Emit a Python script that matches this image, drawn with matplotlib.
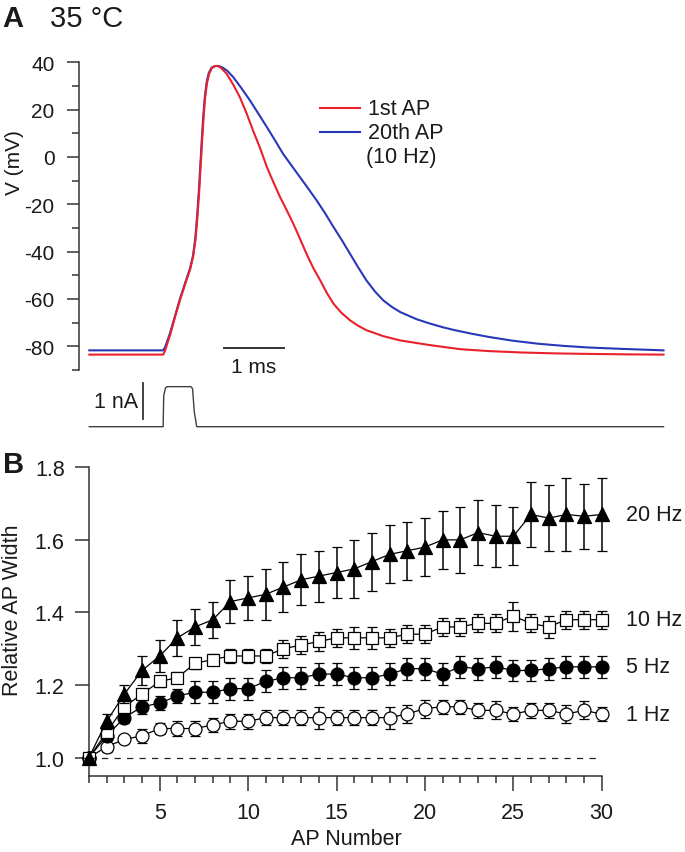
import numpy as np
import matplotlib
matplotlib.use('Agg')
import matplotlib.pyplot as plt
from matplotlib.ticker import MultipleLocator

plt.rcParams['font.family'] = ['Liberation Sans', 'DejaVu Sans']
plt.rcParams['axes.unicode_minus'] = False

# ---- panel A: AP traces (time in ms, V in mV) ----
red_t = [0.00, 1.23, 1.26, 1.345, 1.43, 1.51, 1.60, 1.68, 1.73, 1.77, 1.80, 1.83, 1.855, 1.88,
         1.905, 1.93, 1.96, 1.995, 2.04, 2.09, 2.14, 2.19, 2.24, 2.29, 2.40, 2.51, 2.62, 2.73,
         2.85, 2.96, 3.07, 3.18, 3.29, 3.40, 3.51, 3.62, 3.73, 3.85, 3.96, 4.07, 4.20, 4.345,
         4.48, 4.62, 4.90, 5.18, 5.68, 6.18, 6.65, 7.20, 7.80, 8.32, 9.00, 9.57]
red_v = [-83.5, -83.5, -82.0, -75.3, -67.5, -60.5, -53.5, -47.5, -42.0, -35.0, -26.0, -15.0, -4.0, 7.0,
         17.0, 25.0, 31.0, 35.0, 37.5, 38.4, 38.5, 37.7, 36.5, 35.1, 30.5, 25.2, 18.5, 11.1,
         3.5, -4.3, -10.8, -17.0, -22.5, -28.2, -34.5, -40.9, -46.8, -52.2, -57.5, -62.0, -65.8, -69.0,
         -71.3, -73.2, -75.7, -77.5, -79.5, -81.2, -82.0, -82.6, -83.0, -83.2, -83.4, -83.5]

blue_t = [0.00, 1.23, 1.26, 1.345, 1.43, 1.51, 1.60, 1.68, 1.73, 1.765, 1.795, 1.825, 1.85, 1.875,
          1.90, 1.925, 1.955, 1.99, 2.04, 2.10, 2.16, 2.22, 2.30, 2.40, 2.54, 2.68, 2.82, 2.96,
          3.10, 3.23, 3.37, 3.51, 3.65, 3.79, 3.93, 4.07, 4.21, 4.345, 4.48, 4.62, 4.76, 4.90,
          5.04, 5.18, 5.46, 5.68, 5.90, 6.095, 6.40, 6.65, 7.05, 7.48, 7.90, 8.32, 8.90, 9.57]
blue_v = [-81.7, -81.7, -80.5, -74.5, -67.0, -60.0, -53.0, -47.0, -41.5, -34.5, -25.5, -14.5, -3.5, 7.5,
          17.5, 25.5, 31.5, 35.5, 37.8, 38.4, 38.4, 37.8, 36.4, 33.7, 28.9, 23.8, 18.2, 12.6,
          6.8, 1.3, -3.6, -8.5, -13.4, -18.4, -23.8, -29.6, -35.2, -40.9, -46.6, -52.2, -56.8, -60.6,
          -63.3, -65.5, -68.6, -70.4, -72.0, -73.2, -74.8, -76.0, -77.6, -78.9, -79.8, -80.5, -81.1, -81.7]

# stimulus current (nA)
stim_t = [0.00, 1.23, 1.24, 1.27, 1.30, 1.69, 1.72, 1.75, 1.79, 9.57]
stim_i = [0.0, 0.0, 0.85, 1.07, 1.1, 1.1, 1.05, 0.4, 0.0, 0.0]

# ---- panel B: relative AP width vs AP number ----
ap = np.arange(1, 31)
hz20 = [1.00, 1.10, 1.175, 1.24, 1.28, 1.33, 1.36, 1.38, 1.43, 1.44, 1.45, 1.47, 1.49, 1.50, 1.51,
        1.52, 1.54, 1.56, 1.57, 1.58, 1.60, 1.60, 1.62, 1.61, 1.61, 1.67, 1.66, 1.67, 1.665, 1.67]
hz20_err = [0, 0.02, 0.025, 0.04, 0.045, 0.05, 0.05, 0.05, 0.06, 0.06, 0.07, 0.07, 0.07, 0.07, 0.07,
            0.08, 0.08, 0.08, 0.08, 0.08, 0.08, 0.09, 0.09, 0.085, 0.08, 0.09, 0.09, 0.10, 0.09, 0.10]
hz10 = [1.00, 1.07, 1.14, 1.175, 1.21, 1.22, 1.26, 1.27, 1.28, 1.28, 1.28, 1.30, 1.31, 1.32, 1.33,
        1.33, 1.33, 1.33, 1.34, 1.34, 1.36, 1.36, 1.37, 1.37, 1.39, 1.37, 1.36, 1.38, 1.38, 1.38]
hz10_err = [0, 0.01, 0.015, 0.015, 0.015, 0.015, 0.015, 0.015, 0.02, 0.02, 0.02, 0.025, 0.025, 0.025, 0.025,
            0.03, 0.03, 0.025, 0.025, 0.025, 0.025, 0.025, 0.025, 0.025, 0.04, 0.025, 0.03, 0.025, 0.025, 0.025]
hz5 = [1.00, 1.06, 1.11, 1.14, 1.15, 1.17, 1.18, 1.18, 1.19, 1.19, 1.21, 1.22, 1.22, 1.23, 1.23,
       1.22, 1.22, 1.23, 1.245, 1.245, 1.23, 1.25, 1.245, 1.25, 1.24, 1.24, 1.245, 1.25, 1.25, 1.25]
hz5_err = [0, 0.01, 0.015, 0.02, 0.02, 0.02, 0.03, 0.03, 0.03, 0.03, 0.03, 0.03, 0.03, 0.03, 0.03,
           0.03, 0.03, 0.03, 0.03, 0.03, 0.03, 0.03, 0.03, 0.03, 0.03, 0.03, 0.03, 0.03, 0.03, 0.03]
hz1 = [1.00, 1.03, 1.05, 1.06, 1.08, 1.08, 1.08, 1.09, 1.10, 1.10, 1.11, 1.11, 1.11, 1.11, 1.11,
       1.11, 1.11, 1.11, 1.12, 1.135, 1.14, 1.14, 1.13, 1.13, 1.12, 1.13, 1.13, 1.12, 1.13, 1.12]
hz1_err = [0, 0.015, 0.01, 0.02, 0.015, 0.02, 0.02, 0.02, 0.02, 0.02, 0.02, 0.02, 0.02, 0.03, 0.02,
           0.02, 0.02, 0.03, 0.025, 0.025, 0.02, 0.02, 0.02, 0.025, 0.02, 0.02, 0.02, 0.025, 0.025, 0.02]

W, H = 685, 853
fig = plt.figure(figsize=(W / 100, H / 100), dpi=100)
dark = '#333333'
txt = '#1a1a1a'
red = '#e8212b'
blue = '#2838b8'


def box(l, t, r, b):
    return [l / W, 1 - b / H, (r - l) / W, (b - t) / H]


def ftext(px, py, s, **kw):
    fig.text(px / W, 1 - py / H, s, color=txt, **kw)


# ---------------- panel A ----------------
axA = fig.add_axes(box(79, 63.3, 670, 371))
axA.plot(red_t, red_v, color=red, lw=1.5, zorder=3, solid_joinstyle='round')
axA.plot(blue_t, blue_v, color=blue, lw=1.5, zorder=2, solid_joinstyle='round')
axA.set_xlim(-0.172, 9.678)
axA.set_ylim(-90, 40)
for s in ['top', 'right', 'bottom']:
    axA.spines[s].set_visible(False)
axA.spines['left'].set_color(dark)
axA.spines['left'].set_linewidth(1.1)
axA.set_xticks([])
axA.yaxis.set_major_locator(MultipleLocator(20))
axA.yaxis.set_minor_locator(MultipleLocator(10))
axA.tick_params(axis='y', which='major', length=8.6, width=1.1, color=dark,
                labelsize=15, pad=9, labelcolor=txt)
axA.tick_params(axis='y', which='minor', length=5, width=1.1, color=dark)

# legend
axA.plot([3.845, 4.51], [20.6, 20.6], color=red, lw=1.5)
axA.plot([3.845, 4.51], [10.5, 10.5], color=blue, lw=1.5)
axA.text(4.64, 20.6, '1st AP', fontsize=15.5, va='center', color=txt)
axA.text(4.64, 10.5, '20th AP', fontsize=15.5, va='center', color=txt)
axA.text(4.61, 0.0, '(10 Hz)', fontsize=15.5, va='center', color=txt)

# 1 ms scale bar
sb_t0 = 2.245
axA.plot([sb_t0, sb_t0 + 1], [-80.7, -80.7], color=dark, lw=1.4)
axA.text(sb_t0 + 0.5, -88.6, '1 ms', fontsize=15, ha='center', va='center', color=txt, clip_on=False)

# stimulus
axS = fig.add_axes(box(79, 380, 670, 434))
axS.plot(stim_t, stim_i, color='#404040', lw=1.0)
axS.plot([0.9, 0.9], [0.2, 1.2], color=dark, lw=1.3)
axS.text(0.81, 0.68, '1 nA', fontsize=15.5, ha='right', va='center', color=txt)
axS.set_xlim(-0.172, 9.678)
axS.set_ylim(-0.173, 1.31)
axS.axis('off')

ftext(2, 27, 'A', fontsize=21, fontweight='bold', va='baseline')
ftext(50, 27, '35 °C', fontsize=21, va='baseline')
ftext(15, 163, 'V (mV)', fontsize=15, rotation=90, ha='center', va='center')

# ---------------- panel B ----------------
axB = fig.add_axes(box(89, 468.3, 601.7, 776.7))
axB.plot([ap[0], ap[-1]], [1, 1], color='#222222', lw=0.9, ls=(0, (5, 5)), zorder=1)

series = [
    (hz1, hz1_err, 'o', 'white', 9.3, '1 Hz'),
    (hz5, hz5_err, 'o', 'black', 9.3, '5 Hz'),
    (hz10, hz10_err, 's', 'white', 8.6, '10 Hz'),
    (hz20, hz20_err, '^', 'black', 9.5, '20 Hz'),
]
for i, (vals, err, mk, fc, ms, lab) in enumerate(series):
    cont = axB.errorbar(ap, vals, yerr=err, fmt='-', marker=mk, color='black', mfc=fc, mec='black',
                        mew=0.9, ms=ms, lw=0.9, elinewidth=1.1, capsize=3.8, capthick=1.1,
                        zorder=3 + i, clip_on=False)
    for a in list(cont.lines[1]) + list(cont.lines[2]):
        a.set_clip_on(False)
    axB.text(31.4, vals[-1], lab, fontsize=15.5, va='center', ha='left', color=txt, clip_on=False)

axB.set_xlim(1, 30)
axB.set_ylim(0.95, 1.8)
for s in ['top', 'right']:
    axB.spines[s].set_visible(False)
for s in ['left', 'bottom']:
    axB.spines[s].set_color(dark)
    axB.spines[s].set_linewidth(1.1)
axB.xaxis.set_major_locator(MultipleLocator(5))
axB.xaxis.set_minor_locator(MultipleLocator(1))
axB.yaxis.set_major_locator(MultipleLocator(0.2))
axB.tick_params(axis='both', which='major', color=dark, width=1.1, labelsize=15.5, labelcolor=txt)
axB.tick_params(axis='y', which='major', length=10, pad=7.5)
axB.tick_params(axis='x', which='major', length=11, pad=8)
axB.tick_params(axis='x', which='minor', length=5, width=1.1, color=dark)

ftext(3, 473, 'B', fontsize=21, fontweight='bold', va='baseline')
ftext(13, 610, 'Relative AP Width', fontsize=15.5, rotation=90, ha='center', va='center')
ftext(346, 840, 'AP Number', fontsize=15.5, ha='center', va='center')

fig.savefig('out.png', dpi=100)
